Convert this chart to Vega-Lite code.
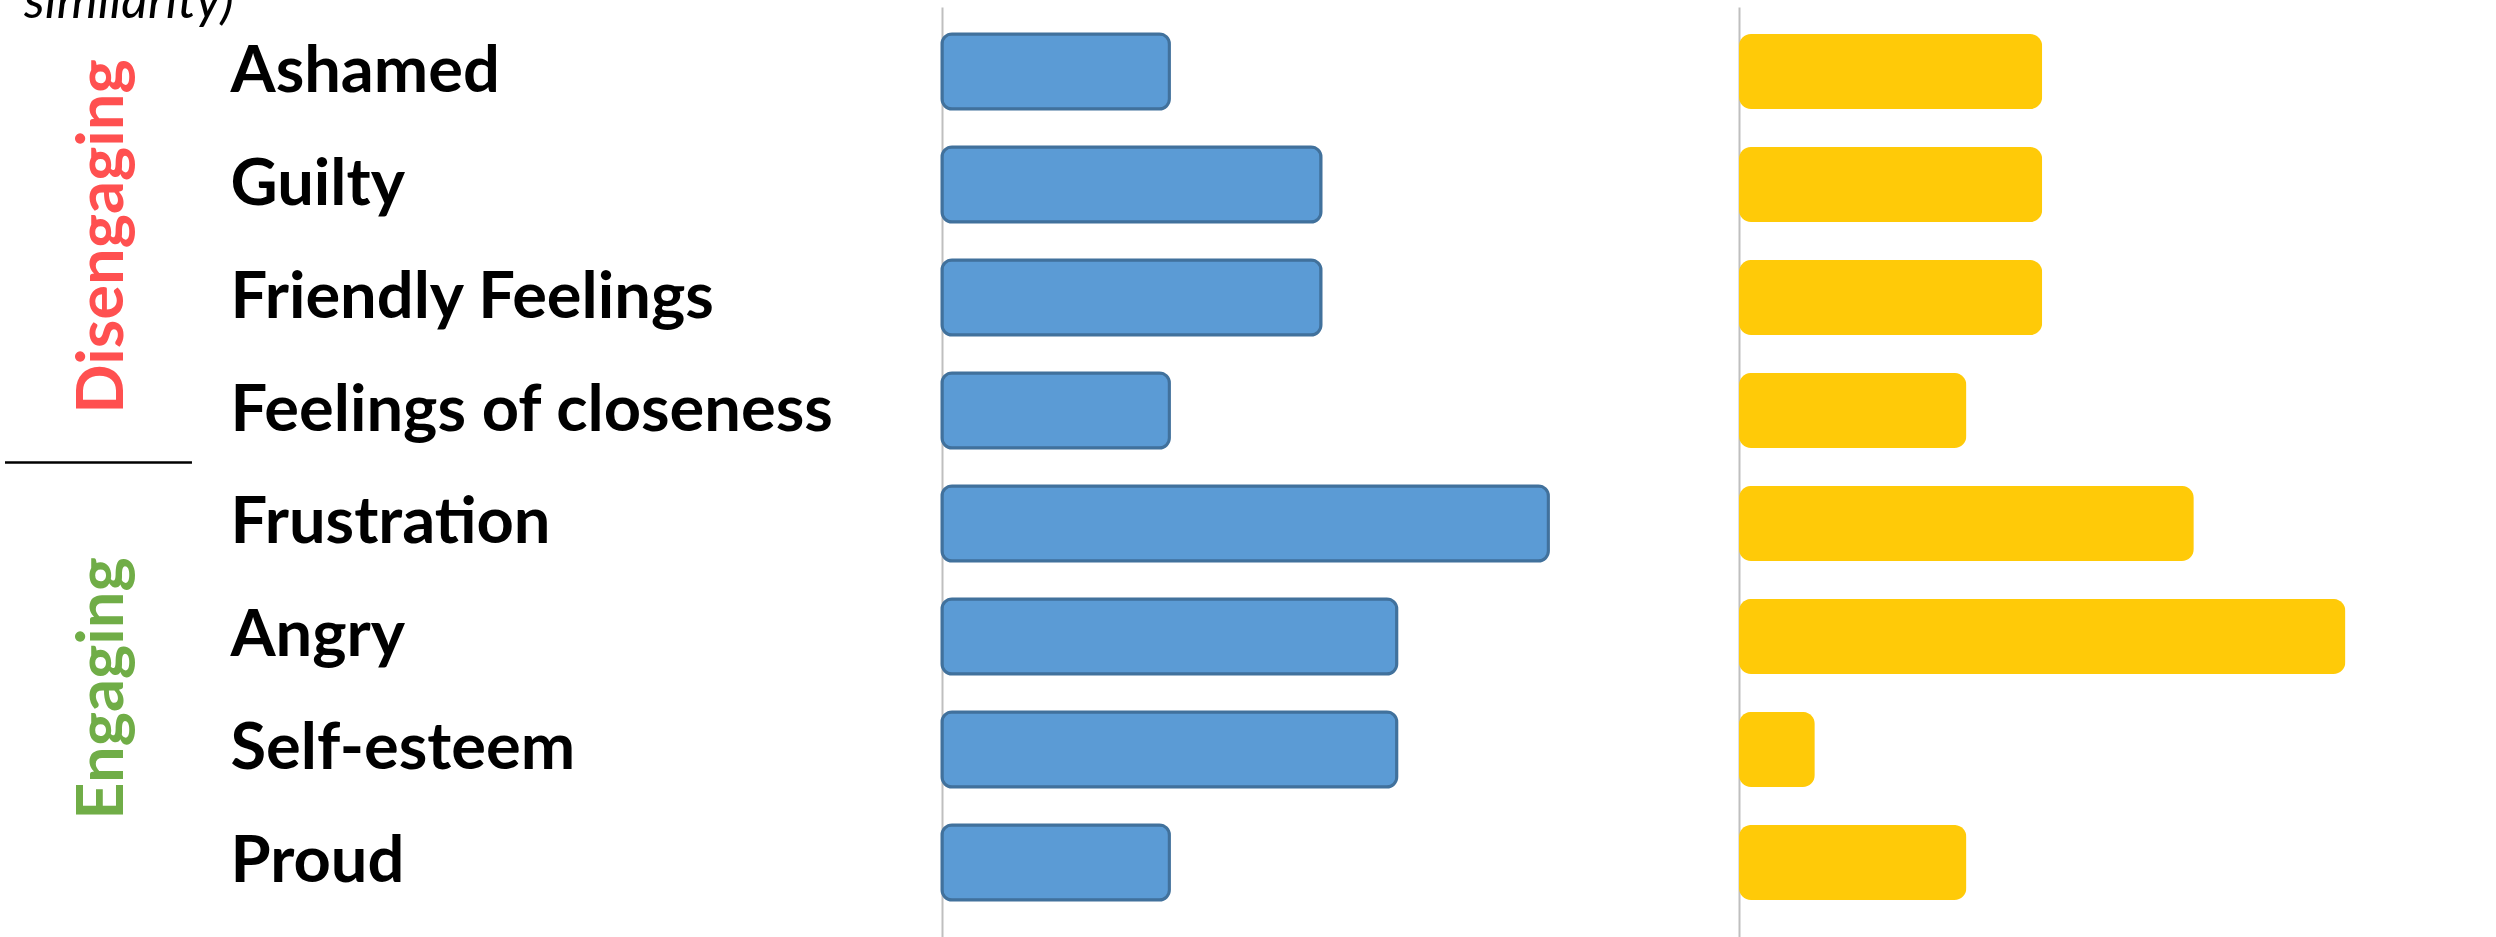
{
  "$schema": "https://vega.github.io/schema/vega-lite/v6.json",
  "padding": {"left": 3, "top": -24, "right": 0, "bottom": 0},
  "background": "white",
  "config": {"view": {"stroke": null}, "font": "Lato"},
  "datasets": {
    "emotions": [
      {"emotion": "Ashamed", "group": "Disengaging", "series": "Series 1", "value": 3},
      {"emotion": "Guilty", "group": "Disengaging", "series": "Series 1", "value": 5},
      {"emotion": "Friendly Feelings", "group": "Disengaging", "series": "Series 1", "value": 5},
      {"emotion": "Feelings of closeness", "group": "Disengaging", "series": "Series 1", "value": 3},
      {"emotion": "Frustration", "group": "Engaging", "series": "Series 1", "value": 8},
      {"emotion": "Angry", "group": "Engaging", "series": "Series 1", "value": 6},
      {"emotion": "Self-esteem", "group": "Engaging", "series": "Series 1", "value": 6},
      {"emotion": "Proud", "group": "Engaging", "series": "Series 1", "value": 3},
      {"emotion": "Ashamed", "group": "Disengaging", "series": "Series 2", "value": 4},
      {"emotion": "Guilty", "group": "Disengaging", "series": "Series 2", "value": 4},
      {"emotion": "Friendly Feelings", "group": "Disengaging", "series": "Series 2", "value": 4},
      {"emotion": "Feelings of closeness", "group": "Disengaging", "series": "Series 2", "value": 3},
      {"emotion": "Frustration", "group": "Engaging", "series": "Series 2", "value": 6},
      {"emotion": "Angry", "group": "Engaging", "series": "Series 2", "value": 8},
      {"emotion": "Self-esteem", "group": "Engaging", "series": "Series 2", "value": 1},
      {"emotion": "Proud", "group": "Engaging", "series": "Series 2", "value": 3}
    ],
    "groups": [
      {"group": "Disengaging", "from": 0, "to": 4},
      {"group": "Engaging", "from": 4, "to": 8}
    ]
  },
  "spacing": 39,
  "bounds": "flush",
  "hconcat": [
    {
      "width": 898,
      "height": 933,
      "data": {"name": "groups"},
      "title": {"text": "similarity)", "anchor": "start", "frame": "group", "offset": -63, "dx": 19, "baseline": "alphabetic", "font": "Lato", "fontStyle": "italic", "fontWeight": "normal", "fontSize": 52, "color": "#000000"},
      "layer": [
        {
          "transform": [{"fold": ["from", "to"], "as": ["edge", "row"]}],
          "mark": {"type": "text", "angle": -90, "align": "center", "baseline": "alphabetic", "font": "Lato", "fontWeight": "bold", "fontSize": 65},
          "encoding": {
            "y": {"aggregate": "mean", "field": "row", "type": "quantitative", "scale": {"domain": [-0.03, 8.226], "reverse": true, "nice": false, "zero": false}, "axis": null},
            "x": {"datum": 0.1314, "type": "quantitative", "scale": {"domain": [0, 1], "nice": false}, "axis": null},
            "text": {"field": "group", "type": "nominal"},
            "color": {"field": "group", "type": "nominal", "scale": {"domain": ["Disengaging", "Engaging"], "range": ["#FF5050", "#70AD47"]}, "legend": null}
          }
        },
        {
          "transform": [{"filter": "datum.from > 0"}],
          "mark": {"type": "rule", "color": "#000000", "strokeWidth": 2.5},
          "encoding": {
            "y": {"field": "from", "type": "quantitative"},
            "x": {"datum": 0, "type": "quantitative"},
            "x2": {"datum": 0.2082}
          }
        }
      ]
    },
    {
      "width": 758,
      "height": 933,
      "data": {"name": "emotions"},
      "transform": [{"filter": "datum.series === 'Series 1'"}],
      "mark": {"type": "bar", "cornerRadius": 10, "fill": "#5B9BD5", "stroke": "#41719C", "strokeWidth": 3},
      "encoding": {
        "y": {
          "field": "emotion", "type": "nominal", "sort": null, "title": null,
          "scale": {"paddingInner": 0.336, "paddingOuter": 0.2965, "align": 0.403},
          "axis": {"orient": "left", "labelAlign": "left", "labelBaseline": "middle", "labelPadding": 712, "labelFont": "Lato", "labelFontWeight": "bold", "labelFontSize": 65, "labelColor": "#000000", "labelLimit": 0, "ticks": false, "tickSize": 0, "domain": true, "domainColor": "#BFBFBF", "domainWidth": 2, "grid": false}
        },
        "x": {"field": "value", "type": "quantitative", "scale": {"domain": [0, 10]}, "axis": null}
      }
    },
    {
      "width": 758,
      "height": 933,
      "data": {"name": "emotions"},
      "transform": [{"filter": "datum.series === 'Series 2'"}],
      "mark": {"type": "bar", "cornerRadius": 12, "fill": "#FFCA08"},
      "encoding": {
        "y": {
          "field": "emotion", "type": "nominal", "sort": null, "title": null,
          "scale": {"paddingInner": 0.336, "paddingOuter": 0.2965, "align": 0.403},
          "axis": {"orient": "left", "labels": false, "ticks": false, "tickSize": 0, "domain": true, "domainColor": "#BFBFBF", "domainWidth": 2, "grid": false}
        },
        "x": {"field": "value", "type": "quantitative", "scale": {"domain": [0, 10]}, "axis": null}
      }
    }
  ]
}
